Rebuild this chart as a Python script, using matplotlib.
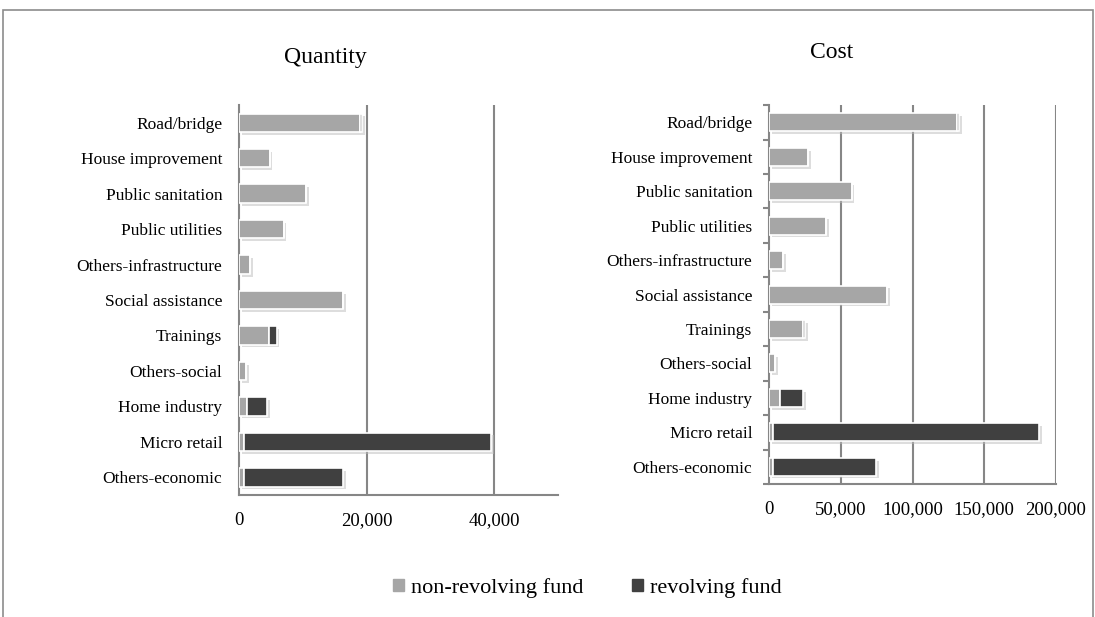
import matplotlib.pyplot as plt
import matplotlib.patheffects as pe
from matplotlib.patches import Rectangle
import numpy as np

# Data
categories = ["Road/bridge", "House improvement", "Public sanitation", "Public utilities",
              "Others-infrastructure", "Social assistance", "Trainings", "Others-social",
              "Home industry", "Micro retail", "Others-economic"]

qty_nonrev = [19000, 4800, 10500, 7000, 1700, 16300, 4700, 1100, 1200, 800, 800]
qty_rev = [300, 0, 0, 0, 0, 0, 1200, 0, 3200, 38700, 15500]

cost_nonrev = [131000, 27000, 57500, 40000, 9700, 82500, 23500, 4200, 7600, 3000, 3000]
cost_rev = [1500, 0, 0, 0, 0, 0, 1500, 0, 16000, 185000, 71500]

series_labels = ["non-revolving fund", "revolving fund"]
c_nonrev = "#a6a6a6"
c_rev = "#404040"
grid_c = "#868686"

plt.rcParams["font.family"] = ["Liberation Serif", "DejaVu Serif"]

fig = plt.figure(figsize=(10.95, 6.17), dpi=100)

# outer frame
fig.patches.append(Rectangle((0.003, -0.01), 0.995, 0.993, transform=fig.transFigure,
                             fill=False, edgecolor="#8c8c8c", linewidth=1.2))

shadow = [pe.SimplePatchShadow(offset=(2, -2), shadow_rgbFace="#bdbdbd", alpha=0.5), pe.Normal()]


def draw_panel(ax, nonrev, rev, xmax, ticks, ticklabels, minor_ticks):
    y = np.arange(len(categories))
    b1 = ax.barh(y, nonrev, height=0.52, color=c_nonrev, edgecolor="white", linewidth=1.2,
                 zorder=3, label=series_labels[0])
    b2 = ax.barh(y, rev, left=nonrev, height=0.52, color=c_rev, edgecolor="white",
                 linewidth=1.2, zorder=3, label=series_labels[1])
    for bar in list(b1) + list(b2):
        if bar.get_width() > 0:
            bar.set_path_effects(shadow)
    ax.set_yticks(y)
    ax.set_yticklabels(categories, fontsize=12.5)
    ax.set_ylim(len(categories) - 0.5, -0.5)
    ax.set_xlim(0, xmax)
    ax.set_xticks(ticks)
    ax.set_xticklabels(ticklabels, fontsize=13.5)
    ax.tick_params(axis="x", length=0, pad=12)
    ax.tick_params(axis="y", length=0, pad=12)
    for t in ticks[1:]:
        ax.axvline(t, color=grid_c, linewidth=1.5, zorder=1)
    for s in ["top", "right"]:
        ax.spines[s].set_visible(False)
    for s in ["left", "bottom"]:
        ax.spines[s].set_color(grid_c)
        ax.spines[s].set_linewidth(1.5)
    if minor_ticks:
        ax.set_yticks(np.arange(len(categories) + 1) - 0.5, minor=True)
        ax.tick_params(axis="y", which="minor", length=4, width=1.5, color=grid_c)


ax1 = fig.add_axes([0.2183, 0.1977, 0.2913, 0.632])
draw_panel(ax1, qty_nonrev, qty_rev, 50000, [0, 20000, 40000], ["0", "20,000", "40,000"], False)

ax2 = fig.add_axes([0.7023, 0.2156, 0.2621, 0.614])
draw_panel(ax2, cost_nonrev, cost_rev, 200000,
           [0, 50000, 100000, 150000, 200000],
           ["0", "50,000", "100,000", "150,000", "200,000"], True)

fig.text(325 / 1095, 1 - 57 / 617, "Quantity", ha="center", va="center", fontsize=17)
fig.text(832 / 1095, 1 - 52 / 617, "Cost", ha="center", va="center", fontsize=17)

handles = [Rectangle((0, 0), 1, 1, color=c_nonrev), Rectangle((0, 0), 1, 1, color=c_rev)]
fig.legend(handles, series_labels, loc="center", bbox_to_anchor=(587 / 1095, 1 - 588 / 617),
           ncol=2, frameon=False, fontsize=16, handlelength=0.5, handleheight=0.5,
           handletextpad=0.3, columnspacing=2.2)

fig.savefig("out.png", dpi=100)
